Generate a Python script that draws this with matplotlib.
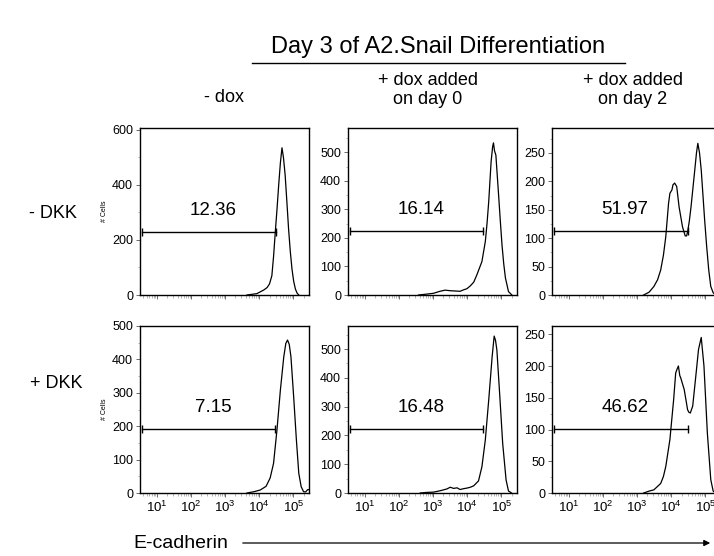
import matplotlib
matplotlib.use("Agg")
import matplotlib.pyplot as plt
from matplotlib.lines import Line2D
from matplotlib.patches import FancyArrowPatch
from matplotlib.ticker import FixedLocator, NullFormatter, AutoMinorLocator, LogLocator

plt.rcParams['font.family'] = ['Liberation Sans', 'DejaVu Sans']
plt.rcParams['mathtext.fontset'] = 'custom'
plt.rcParams['mathtext.rm'] = 'Liberation Sans'
plt.rcParams['mathtext.default'] = 'regular'

# ---- titles and labels ----
title = "Day 3 of A2.Snail Differentiation"
col_titles = ["- dox", "+ dox added\non day 0", "+ dox added\non day 2"]
row_titles = ["- DKK", "+ DKK"]
x_label = "E-cadherin"
y_label = "# Cells"
x_ticks = [1, 2, 3, 4, 5]
x_tick_labels = [r"$10^{%d}$" % d for d in x_ticks]

# ---- histograms: log10(E-cadherin intensity) vs cell count ----
nodkk_nodox_log = [3.64, 3.93, 4.13, 4.23, 4.30, 4.37, 4.42, 4.47, 4.52, 4.57, 4.62,
                   4.667, 4.71, 4.76, 4.81, 4.86, 4.91, 4.96, 5.01, 5.06, 5.11, 5.16]
nodkk_nodox_cells = [0, 5, 18, 27, 40, 70, 140, 228, 310, 399, 480,
                     535, 500, 436, 340, 241, 160, 95, 50, 22, 7, 0]

nodkk_day0_log = [2.57, 2.8, 3.01, 3.2, 3.35, 3.5, 3.65, 3.79, 3.89, 3.99, 4.09, 4.19,
                  4.28, 4.36, 4.43, 4.53, 4.58, 4.63, 4.70, 4.745, 4.77, 4.80, 4.84,
                  4.92, 4.97, 5.02, 5.07, 5.12, 5.21, 5.31]
nodkk_day0_cells = [0, 3, 6, 13, 17, 15, 14, 13, 18, 22, 32, 45,
                    70, 95, 117, 187, 250, 327, 467, 520, 533, 505, 490,
                    350, 260, 175, 110, 60, 12, 0]

nodkk_day2_log = [3.19, 3.35, 3.49, 3.60, 3.69, 3.77, 3.84, 3.92, 3.96, 4.02, 4.05,
                  4.10, 4.16, 4.23, 4.33, 4.41, 4.45, 4.48, 4.53, 4.58, 4.68, 4.74,
                  4.78, 4.83, 4.88, 4.98, 5.04, 5.10, 5.16, 5.23, 5.3]
nodkk_day2_cells = [0, 5, 15, 27, 44, 70, 103, 161, 179, 185, 194,
                    197, 191, 155, 120, 104, 104, 111, 130, 155, 214, 250,
                    267, 250, 220, 132, 85, 44, 15, 4, 0]

dkk_nodox_log = [3.64, 3.85, 4.03, 4.2, 4.32, 4.42, 4.52, 4.62, 4.72, 4.78, 4.83,
                 4.88, 4.93, 5.01, 5.09, 5.16, 5.23, 5.30, 5.36, 5.42, 5.46]
dkk_nodox_cells = [0, 4, 9, 20, 45, 89, 189, 308, 408, 448, 458,
                   445, 408, 288, 159, 59, 19, 4, 3, 10, 10]

dkk_day0_log = [2.62, 2.8, 3.01, 3.21, 3.40, 3.5, 3.60, 3.70, 3.79, 3.89, 3.99, 4.09,
                4.19, 4.33, 4.43, 4.53, 4.63, 4.73, 4.79, 4.83, 4.87, 4.95, 5.04,
                5.14, 5.21, 5.30]
dkk_day0_cells = [0, 2, 3, 8, 14, 20, 16, 18, 12, 15, 17, 20,
                  25, 42, 91, 184, 323, 473, 545, 530, 496, 346, 172,
                  45, 7, 0]

dkk_day2_log = [3.19, 3.35, 3.49, 3.69, 3.77, 3.84, 3.96, 4.07, 4.13, 4.17, 4.21,
                4.25, 4.28, 4.38, 4.48, 4.52, 4.56, 4.63, 4.73, 4.80, 4.88, 4.96,
                5.06, 5.16, 5.23, 5.3]
dkk_day2_cells = [0, 3, 5, 15, 26, 42, 84, 147, 189, 195, 200,
                  185, 181, 163, 131, 127, 126, 137, 189, 226, 245, 200,
                  94, 21, 3, 0]

# ---- gates (low-E-cadherin fraction) ----
gate_lo_log = 0.56
gate_hi_log = [4.50, 4.47, 4.49, 4.47, 4.46, 4.48]
gate_level = [230, 224, 113, 192, 222, 101]
gate_percent = ["12.36", "16.14", "51.97", "7.15", "16.48", "46.62"]

# ---- axis ranges ----
y_max = [607, 585, 294, 500, 580, 263]
y_step = [200, 100, 50, 100, 100, 50]
x_range_log = (0.5, 5.46)

series = [(nodkk_nodox_log, nodkk_nodox_cells),
          (nodkk_day0_log, nodkk_day0_cells),
          (nodkk_day2_log, nodkk_day2_cells),
          (dkk_nodox_log, dkk_nodox_cells),
          (dkk_day0_log, dkk_day0_cells),
          (dkk_day2_log, dkk_day2_cells)]

W, H = 714, 556
fig = plt.figure(figsize=(W / 100, H / 100), dpi=100)


def fx(px):
    return px / W


def fy(py):
    return 1 - py / H


col_left = [140, 348, 552]
row_top = [128, 326]
ax_w, ax_h = 169, 167

for i, (lg, cells) in enumerate(series):
    r, c = divmod(i, 3)
    ax = fig.add_axes([fx(col_left[c]), fy(row_top[r] + ax_h), ax_w / W, ax_h / H])
    ax.plot([10 ** v for v in lg], cells, color='black', lw=0.9)
    ax.set_xscale('log')
    ax.set_xlim(10 ** x_range_log[0], 10 ** x_range_log[1])
    ax.set_ylim(0, y_max[i])

    # gate bar with end caps
    g0, g1 = 10 ** gate_lo_log, 10 ** gate_hi_log[i]
    ax.plot([g0, g1], [gate_level[i]] * 2, color='black', lw=1.0)
    ax.plot([g0, g1], [gate_level[i]] * 2, ls='none', marker='|', ms=6,
            mew=1.0, color='black')
    gc = 10 ** ((gate_lo_log + gate_hi_log[i]) / 2)
    ax.annotate(gate_percent[i], xy=(gc, gate_level[i]), xytext=(3, 15.5),
                textcoords='offset points', ha='center', va='center', fontsize=13.5)

    # axes styling
    for sp in ax.spines.values():
        sp.set_linewidth(1.0)
    ax.xaxis.set_major_locator(FixedLocator([10 ** d for d in x_ticks]))
    ax.xaxis.set_minor_locator(LogLocator(base=10, subs=range(2, 10), numticks=20))
    ax.xaxis.set_minor_formatter(NullFormatter())
    if r == 1:
        ax.set_xticklabels(x_tick_labels, fontsize=9.5)
    else:
        ax.set_xticklabels([])
    yt = list(range(0, y_max[i] + 1, y_step[i]))
    ax.set_yticks(yt)
    ax.set_yticklabels([str(v) for v in yt], fontsize=9)
    ax.yaxis.set_minor_locator(AutoMinorLocator(2))
    ax.tick_params(axis='both', which='major', direction='out', length=3,
                   width=0.6, pad=2, color='#555555')
    ax.tick_params(axis='both', which='minor', direction='out', length=1.8,
                   width=0.5, color='#999999')
    if c == 0:
        ax.set_ylabel(y_label, fontsize=5, labelpad=3)

# title with underline
fig.text(fx(438), fy(47), title, ha='center', va='center', fontsize=17)
fig.add_artist(Line2D([fx(252), fx(625)], [fy(63), fy(63)], color='black', lw=1.0))

# column headers
fig.text(fx(224), fy(97), col_titles[0], ha='center', va='center', fontsize=13)
fig.text(fx(428), fy(90), col_titles[1], ha='center', va='center', fontsize=13,
         linespacing=1.15)
fig.text(fx(633), fy(90), col_titles[2], ha='center', va='center', fontsize=13,
         linespacing=1.15)

# row labels
fig.text(fx(53), fy(213), row_titles[0], ha='center', va='center', fontsize=13)
fig.text(fx(56), fy(383), row_titles[1], ha='center', va='center', fontsize=13)

# x-axis label with arrow
fig.text(fx(133), fy(543), x_label, ha='left', va='center', fontsize=14)
fig.add_artist(FancyArrowPatch((fx(240), fy(543)), (fx(713), fy(543)),
                               transform=fig.transFigure, arrowstyle='-|>',
                               mutation_scale=9, lw=0.9, color='black'))

fig.savefig("out.png", dpi=100)
